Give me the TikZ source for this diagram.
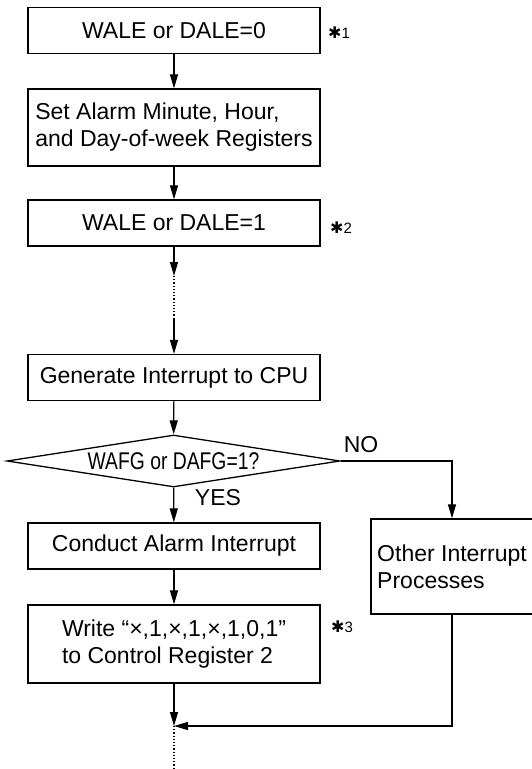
\documentclass[tikz,border=0pt]{standalone}
\usepackage{fontspec}
\setmainfont{Liberation Sans}
\newfontfamily\symfont{DejaVu Sans}
\usepackage{graphicx}
\usetikzlibrary{arrows.meta,positioning,shapes.geometric}

\newcommand{\starmark}[1]{{\symfont\fontsize{16}{16}\selectfont ✱}{\fontsize{15}{16}\selectfont #1}}

\begin{document}
\begin{tikzpicture}[
  x=1pt, y=-1pt,
  font=\fontsize{23}{27}\selectfont,
  box/.style={draw, line width=1.3pt, minimum width=292, minimum height=46, align=left, inner sep=2pt},
  decision/.style={draw, diamond, line width=1.3pt, minimum width=333, minimum height=52, inner sep=0pt, aspect=6.4},
  flow/.style={-{Triangle[length=14pt,width=8pt]}, line width=1.2pt},
  gap/.style={dotted, line width=1.2pt},
  note/.style={anchor=west, inner sep=0pt},
  tag/.style={inner sep=0pt}
]
  \useasboundingbox (0,0) rectangle (531,769);

  \node[box] (clear) at (174,30.5) {WALE or DALE=0};
  \node[box, minimum height=77] (regs) at (174,127.5) {Set Alarm Minute, Hour,\\and Day-of-week Registers};
  \node[box] (enable) at (174,223) {WALE or DALE=1};
  \node[box] (irq) at (174,377.5) {Generate Interrupt to CPU};
  \node[decision] (check) at (173.5,461) {\scalebox{0.84}[1.05]{WAFG or DAFG=1?}};
  \node[box] (alarm) at (174,546) {Conduct Alarm Interrupt};
  \node[box, minimum height=78] (write) at (174,644) {Write “×,1,×,1,×,1,0,1”\\to Control Register 2};
  \node[box, minimum width=162, minimum height=95] (other) at (452,566.5) {Other Interrupt\\Processes};

  \node[note] (n1) at (328,33) {\starmark{1}};
  \node[note] (n2) at (330,228) {\starmark{2}};
  \node[note] (n3) at (331,627) {\starmark{3}};
  \node[tag] (no) at (361,445) {NO};
  \node[tag] (yes) at (218,498) {YES};

  \coordinate (waitA) at (174,276);
  \coordinate (waitB) at (174,318);
  \coordinate (merge) at (174,726);
  \coordinate (tail) at (174,769);

  \draw[flow] (clear) -- (regs);
  \draw[flow] (regs) -- (enable);
  \draw[flow] (enable) -- (waitA);
  \draw[gap] (waitA) -- (waitB);
  \draw[flow] (waitB) -- (irq);
  \draw[flow] (irq) -- (check);
  \draw[flow] (check) -- (alarm);
  \draw[flow] (check.east) -| (other.north);
  \draw[flow] (alarm) -- (write);
  \draw[flow] (write) -- (merge);
  \draw[flow] (other.south) |- (merge);
  \draw[gap] (merge) -- (tail);
\end{tikzpicture}
\end{document}
